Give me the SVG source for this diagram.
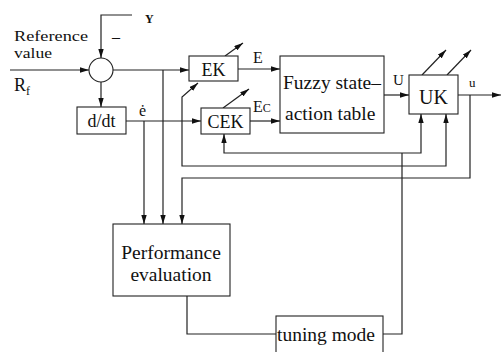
<svg xmlns="http://www.w3.org/2000/svg" width="503" height="352" viewBox="0 0 503 352">
<style>
text{font-family:"Liberation Serif","Times New Roman",serif;fill:#111}
.box{fill:#fff;stroke:#222;stroke-width:1.1}
.ln{fill:none;stroke:#222;stroke-width:1.2}
.big{font-size:19.5px}
.mid{font-size:18px}
.c{text-anchor:middle}
</style>
<defs>
<marker id="ah" viewBox="0 0 10 6" refX="10" refY="3" markerWidth="9" markerHeight="5.5" markerUnits="userSpaceOnUse" orient="auto">
<path d="M0,0 L10,3 L0,6 Z" fill="#111"/>
</marker>
</defs>
<rect width="503" height="352" fill="#fff"/>

<g id="connectors">
<path class="ln" d="M10,70 H89" marker-end="url(#ah)"/>
<path class="ln" d="M132,15 H101 V58" marker-end="url(#ah)"/>
<path class="ln" d="M113,70 H189" marker-end="url(#ah)"/>
<path class="ln" d="M101,82 V107" marker-end="url(#ah)"/>
<path class="ln" d="M126,121 H201" marker-end="url(#ah)"/>
<path class="ln" d="M238,69 H280" marker-end="url(#ah)"/>
<path class="ln" d="M250,121 H280" marker-end="url(#ah)"/>
<path class="ln" d="M384,95 H409" marker-end="url(#ah)"/>
<path class="ln" d="M458,95 H501" marker-end="url(#ah)"/>
<path class="ln" d="M163,70 V224" marker-end="url(#ah)"/>
<path class="ln" d="M144,121 V224" marker-end="url(#ah)"/>
<path class="ln" d="M470,95 V178 H182 V224" marker-end="url(#ah)"/>
<path class="ln" d="M402,153 H224 V134" marker-end="url(#ah)"/>
<path class="ln" d="M402,153 H421 V114" marker-end="url(#ah)"/>
<path class="ln" d="M402,166 H182 V97 L198,83" marker-end="url(#ah)"/>
<path class="ln" d="M402,166 H446 V114" marker-end="url(#ah)"/>
<path class="ln" d="M383,334 H402 V153"/>
<path class="ln" d="M187,296 V334 H276"/>
<path class="ln" d="M225,56 L243,43" marker-end="url(#ah)"/>
<path class="ln" d="M223,108 L249,89" marker-end="url(#ah)"/>
<path class="ln" d="M422,75 L446,50" marker-end="url(#ah)"/>
<path class="ln" d="M447,75 L471,50" marker-end="url(#ah)"/>
</g>

<g id="labels">
<text x="14" y="41" style="font-size:15px" textLength="74" lengthAdjust="spacingAndGlyphs">Reference</text>
<text x="14" y="58" style="font-size:15px" textLength="38" lengthAdjust="spacingAndGlyphs">value</text>
<text x="14" y="91" style="font-size:18px">R<tspan dy="4" style="font-size:12px">f</tspan></text>
<text x="145" y="23" style="font-size:12px;font-weight:bold">Y</text>
<text x="112" y="42" style="font-size:16px">–</text>
<text x="139" y="116" style="font-size:16px">ė</text>
<text x="253" y="63" style="font-size:16px">E</text>
<text x="253" y="112" style="font-size:16px">E<tspan style="font-size:12px">C</tspan></text>
<text x="393" y="85" style="font-size:15px">U</text>
<text x="469" y="87" style="font-size:13px">u</text>
</g>

<g id="sum">
<circle cx="101" cy="70" r="12" class="box"/>
</g>
<g id="ddt">
<rect x="77" y="107" width="49" height="27" class="box"/>
<text x="101.5" y="127" class="mid c">d/dt</text>
</g>
<g id="ek">
<rect x="189" y="56" width="49" height="25" class="box"/>
<text x="213.5" y="76" class="mid c">EK</text>
</g>
<g id="cek">
<rect x="201" y="108" width="49" height="26" class="box"/>
<text x="225.5" y="128" class="mid c">CEK</text>
</g>
<g id="fuzzy">
<rect x="280" y="56" width="104" height="77" class="box"/>
<text x="283" y="89" class="big">Fuzzy state–</text>
<text x="285" y="120" class="big">action table</text>
</g>
<g id="uk">
<rect x="409" y="75" width="49" height="39" class="box"/>
<text x="433.5" y="104" class="c" style="font-size:20px">UK</text>
</g>
<g id="perf">
<rect x="113" y="224" width="117" height="72" class="box"/>
<text x="171" y="259" class="big c">Performance</text>
<text x="171" y="281" class="big c">evaluation</text>
</g>
<g id="tuning">
<rect x="276" y="316" width="107" height="44" class="box"/>
<text x="326" y="341" class="big c">tuning mode</text>
</g>
</svg>
